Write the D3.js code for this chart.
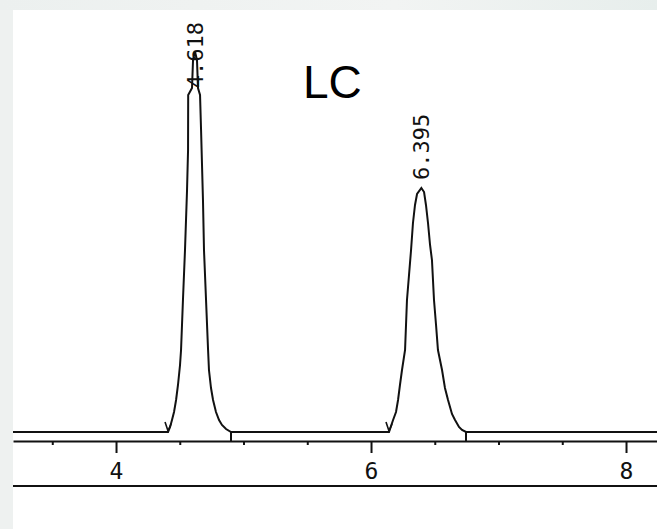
<!DOCTYPE html>
<html>
<head>
<meta charset="utf-8">
<script src="https://cdn.jsdelivr.net/npm/d3@7"></script>
<style>
  body { margin: 0; background: #fff; }
  svg { display: block; }
</style>
</head>
<body>
<div id="chart"></div>
<script>
// retention time (min), detector signal
var peak1Trace = [
  [4.408, 0], [4.424, 5], [4.439, 12], [4.455, 20], [4.471, 32], [4.486, 47],
  [4.502, 67], [4.510, 82], [4.525, 132], [4.541, 182], [4.557, 242], [4.565, 282],
  [4.566, 337], [4.596, 344], [4.604, 372], [4.618, 381], [4.635, 372], [4.643, 344],
  [4.659, 337], [4.667, 302], [4.682, 232], [4.690, 182], [4.706, 132], [4.722, 82],
  [4.729, 62], [4.745, 44], [4.761, 32], [4.784, 20], [4.808, 12], [4.831, 7],
  [4.863, 3], [4.902, 0]
];
var peak2Trace = [
  [6.141, 0], [6.173, 12], [6.196, 20], [6.212, 32], [6.227, 47], [6.243, 62],
  [6.267, 82], [6.282, 132], [6.298, 157], [6.314, 182], [6.329, 209], [6.345, 227],
  [6.361, 238], [6.395, 244], [6.416, 240], [6.431, 227], [6.447, 209], [6.463, 187],
  [6.478, 172], [6.494, 132], [6.510, 107], [6.525, 82], [6.557, 62], [6.580, 44],
  [6.604, 32], [6.635, 18], [6.659, 12], [6.690, 5], [6.714, 2], [6.745, 0]
];
var peakTimes = [4.618, 6.395];
var peakHeights = [381, 244];
var peakLabels = ["4.618", "6.395"];
var peakStarts = [4.408, 6.141];
var peakEnds = [4.902, 6.745];
var majorTicks = [4, 6, 8];
var minorTicks = [3.5, 4.5, 5, 5.5, 6.5, 7, 7.5];
var timeRange = [3.192, 8.243];
var title = "LC";

var width = 657, height = 529;
var padLeft = 13, padTop = 10;
var baseY = 432, axisY = 441, bottomY = 486;

var svg = d3.select("#chart").append("svg")
  .attr("width", width)
  .attr("height", height);

// pale frame around the white sheet
var defs = svg.append("defs");
var grad = defs.append("linearGradient").attr("id", "frame").attr("x1", 0).attr("x2", 1).attr("y1", 0).attr("y2", 0);
grad.append("stop").attr("offset", "0%").attr("stop-color", "#ecf0ef");
grad.append("stop").attr("offset", "60%").attr("stop-color", "#f2f4f3");
grad.append("stop").attr("offset", "100%").attr("stop-color", "#e7eeec");
svg.append("rect").attr("width", width).attr("height", height).attr("fill", "url(#frame)");
svg.append("rect").attr("x", 0).attr("y", padTop).attr("width", padLeft).attr("height", height - padTop).attr("fill", "#eef1f0");
svg.append("rect").attr("x", padLeft).attr("y", padTop).attr("width", width - padLeft).attr("height", height - padTop).attr("fill", "#fff");

var x = d3.scaleLinear().domain(timeRange).range([padLeft, width]);
var y = d3.scaleLinear().domain([0, 422]).range([baseY, padTop]);

var trace = [[timeRange[0], 0]].concat(peak1Trace, peak2Trace, [[timeRange[1], 0]]);

var line = d3.line()
  .x(function(d) { return x(d[0]); })
  .y(function(d) { return y(d[1]); });

svg.append("path")
  .datum(trace)
  .attr("d", line)
  .attr("fill", "none")
  .attr("stroke", "#111")
  .attr("stroke-width", 2)
  .attr("stroke-linejoin", "miter");

// minor ticks
var minorAxis = d3.axisBottom(x).tickValues(minorTicks).tickSize(4).tickFormat("");
var gMinor = svg.append("g").attr("transform", "translate(0," + axisY + ")").call(minorAxis);
gMinor.select(".domain").remove();

// major ticks + axis line
var majorAxis = d3.axisBottom(x).tickValues(majorTicks).tickSize(12).tickSizeOuter(0)
  .tickPadding(10).tickFormat(d3.format("d"));
var gMajor = svg.append("g").attr("transform", "translate(0," + axisY + ")").call(majorAxis);
gMajor.select(".domain").attr("stroke", "#111").attr("stroke-width", 2);
svg.selectAll(".tick line").attr("stroke", "#111").attr("stroke-width", 2);
gMajor.selectAll(".tick text")
  .attr("fill", "#111")
  .style("font-family", "'DejaVu Sans Mono', monospace")
  .style("font-size", "23px");

svg.append("line")
  .attr("x1", padLeft).attr("x2", width)
  .attr("y1", bottomY).attr("y2", bottomY)
  .attr("stroke", "#111").attr("stroke-width", 2);

// integration marks: start chevron, end drop line
svg.selectAll("path.start")
  .data(peakStarts)
  .enter().append("path")
  .attr("class", "start")
  .attr("d", function(d) {
    var px = x(d);
    return "M" + (px - 3) + "," + (baseY - 10) + "L" + px + "," + (baseY - 1) + "L" + (px + 3) + "," + (baseY - 8);
  })
  .attr("fill", "none").attr("stroke", "#111").attr("stroke-width", 1.6);

svg.selectAll("line.end")
  .data(peakEnds)
  .enter().append("line")
  .attr("class", "end")
  .attr("x1", function(d) { return x(d); })
  .attr("x2", function(d) { return x(d); })
  .attr("y1", baseY).attr("y2", axisY)
  .attr("stroke", "#111").attr("stroke-width", 2);

// retention time labels above each apex
var labelSize = 22;
var labelLen = 5 * 0.602 * labelSize;
svg.selectAll("text.rt")
  .data(peakTimes)
  .enter().append("text")
  .attr("class", "rt")
  .attr("transform", function(d, i) {
    var ay = Math.max(y(peakHeights[i]) - 8, 22 + labelLen);
    return "translate(" + x(d) + "," + ay + ") rotate(-90)";
  })
  .attr("dy", "0.35em")
  .attr("fill", "#111")
  .style("font-family", "'DejaVu Sans Mono', monospace")
  .style("font-size", labelSize + "px")
  .text(function(d, i) { return peakLabels[i]; });

svg.append("text")
  .attr("x", 303)
  .attr("y", 98)
  .attr("fill", "#000")
  .style("font-family", "'Liberation Sans', Arial, sans-serif")
  .style("font-size", "46px")
  .text(title);
</script>
</body>
</html>
